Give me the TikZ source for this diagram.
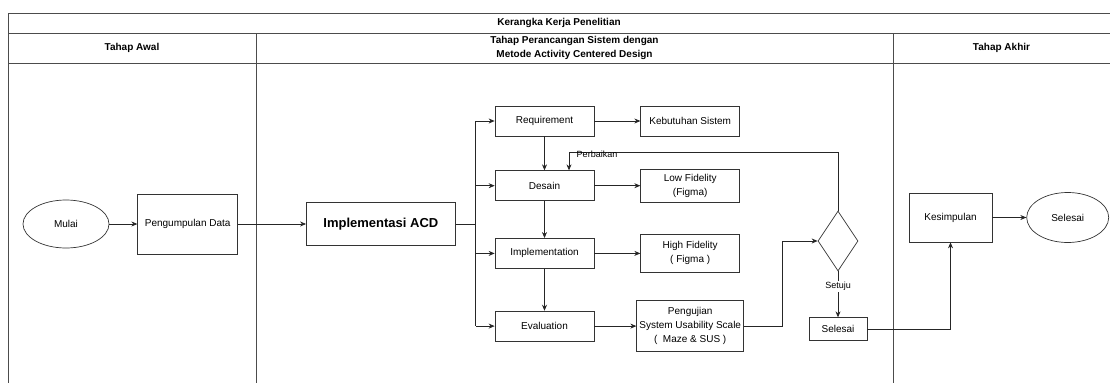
\documentclass[tikz,border=0pt]{standalone}
\usepackage{fontspec}
\setmainfont{Liberation Sans}
\usetikzlibrary{shapes.geometric, arrows.meta, positioning, calc}
\tikzstyle{arrow} = [
    line width=0.7pt,
    ->,
    >={Stealth[length=6pt,width=5pt]},
    draw=black!85
]

\begin{document}
\begin{tikzpicture}[
    x=1pt, y=1pt,
    every node/.style={
        align=center,
        inner sep=1pt,
        font=\fontsize{10}{14}\selectfont
    },
    box/.style={
        draw=black!80,
        line width=0.7pt,
        minimum width=99pt,
        minimum height=30pt
    },
    oval/.style={
        ellipse,
        draw=black!80,
        line width=0.7pt,
        minimum width=86pt,
        minimum height=48pt
    },
    header/.style={
        font=\fontsize{10}{14}\selectfont\bfseries
    },
    lane/.style={
        draw=black!70,
        line width=1pt
    },
    note/.style={
        font=\fontsize{9}{11}\selectfont
    }
]
\useasboundingbox (0,0) rectangle (1110,-383);

% Lanes
\draw[lane] (8,-13) -- (1110,-13);
\draw[lane] (8,-33) -- (1110,-33);
\draw[lane] (8,-63) -- (1110,-63);
\draw[lane] (8,-13) -- (8,-383);
\draw[lane] (256,-33) -- (256,-383);
\draw[lane] (893,-33) -- (893,-383);

\node (judul) [header] at (559,-23) {Kerangka Kerja Penelitian};
\node (awal) [header] at (132,-48) {Tahap Awal};
\node (rancang) [header] at (574.5,-48) {Tahap Perancangan Sistem dengan\\ Metode Activity Centered Design};
\node (akhir) [header] at (1001.5,-48) {Tahap Akhir};

% Nodes
\node (mulai) [oval] at (66,-224) {Mulai};
\node (data) [box, minimum width=100pt, minimum height=60pt, right=28pt of mulai] {Pengumpulan Data};
\node (acd) [box, minimum width=149pt, minimum height=43pt, font=\fontsize{13}{15}\selectfont\bfseries, right=68pt of data] {Implementasi ACD};

\node (req) [box] at (544.5,-121) {Requirement};
\node (kebutuhan) [box, right=46pt of req] {Kebutuhan Sistem};
\node (desain) [box, below=34pt of req] {Desain};
\node (lowfi) [box, minimum height=33pt, right=46pt of desain] {Low Fidelity\\ (Figma)};
\node (impl) [box, below=37pt of desain] {Implementation};
\node (highfi) [box, minimum height=38pt, right=46pt of impl] {High Fidelity\\ ( Figma )};
\node (eval) [box, below=42pt of impl] {Evaluation};
\node (uji) [box, minimum width=107pt, minimum height=51pt, right=42pt of eval] {Pengujian\\ System Usability Scale\\ (\ \ Maze \& SUS )};

\node (cek) [diamond, draw=black!80, line width=0.7pt, inner sep=0pt, minimum width=40pt, minimum height=60pt] at (838,-241) {};
\node (fin) [box, minimum width=58pt, minimum height=23pt, below=46pt of cek] {Selesai};

\node (kesimpulan) [box, minimum width=83pt, minimum height=49pt] at (950.5,-217.5) {Kesimpulan};
\node (selesai) [oval, minimum width=82pt, minimum height=50pt, right=34pt of kesimpulan] {Selesai};

% Edges
\coordinate (bus) at ([xshift=20pt]acd.east);
\draw[arrow] (mulai) -- (data);
\draw[arrow] (data) -- (acd);
\draw[arrow, -] (acd.east) -- (bus);
\draw[arrow, -] (bus |- req.west) -- (bus |- eval.west);
\draw[arrow] (bus |- req.west) -- (req.west);
\draw[arrow] (bus |- desain.west) -- (desain.west);
\draw[arrow] (bus |- impl.west) -- (impl.west);
\draw[arrow] (bus |- eval.west) -- (eval.west);

\draw[arrow] (req) -- (kebutuhan);
\draw[arrow] (desain) -- (lowfi);
\draw[arrow] (impl) -- (highfi);
\draw[arrow] (eval) -- (uji);
\draw[arrow] (req) -- (desain);
\draw[arrow] (desain) -- (impl);
\draw[arrow] (impl) -- (eval);

\coordinate (balik) at (569,-152);
\draw[arrow] (cek.north) |- (balik) -- (balik |- desain.north);
\node (perbaikan) [note] at (597,-154) {Perbaikan};

\draw[arrow] (uji.east) -- ++(38pt,0) |- (cek.west);
\draw[arrow] (cek.south) -- node[note, fill=white, pos=0.33] {Setuju} (fin.north);
\draw[arrow] (fin.east) -| (kesimpulan.south);
\draw[arrow] (kesimpulan) -- (selesai);

\end{tikzpicture}
\end{document}
